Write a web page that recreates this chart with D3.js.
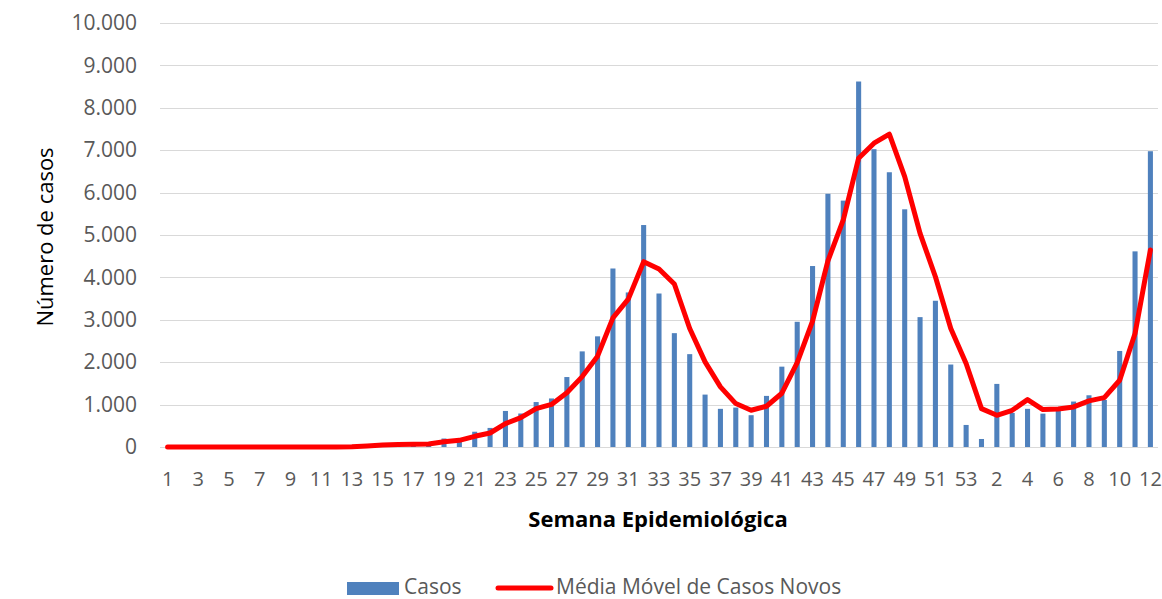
<!DOCTYPE html>
<html>
<head>
<meta charset="utf-8">
<script src="https://cdnjs.cloudflare.com/ajax/libs/d3/7.8.5/d3.min.js"></script>
<style>
  body { margin: 0; background: #fff; }
  text { font-family: "Open Sans", sans-serif; }
</style>
</head>
<body>
<div id="chart"></div>
<script>
"use strict";

// week labels: 2020 weeks 1-53, then 2021 weeks 1-12
var semanas = [];
for (var w = 1; w <= 53; w++) semanas.push(w);
for (var w2 = 1; w2 <= 12; w2++) semanas.push(w2);

var casos = [
  0, 0, 0, 0, 0, 0, 0, 0, 0, 0, 2, 3,
  8, 30, 60, 70, 75, 85, 200, 150, 360, 450, 850, 790,
  1060, 1145, 1650, 2255, 2610, 4210, 3645, 5235, 3620, 2685, 2190, 1236,
  900, 930, 750, 1205, 1895, 2953, 4268, 5972, 5811, 8620, 7024, 6480,
  5606, 3063, 3449, 1945, 520,
  189, 1488, 803, 900, 787, 945, 1072, 1220, 1110, 2265, 4614, 6976
];

var mediaMovel = [
  0, 0, 0, 0, 0, 0, 0, 0, 0, 0, 0, 2,
  8, 25, 47, 60, 65, 71, 126, 157, 252, 330, 551, 693,
  906, 1004, 1280, 1660, 2142, 3047, 3488, 4370, 4197, 3843, 2795, 2008,
  1417, 1024, 866, 961, 1268, 1990, 2970, 4390, 5354, 6811, 7165, 7378,
  6378, 5039, 4016, 2795, 1969,
  906, 748, 866, 1118, 882, 898, 945, 1087, 1165, 1575, 2677, 4646
];

var yTicks = [0, 1000, 2000, 3000, 4000, 5000, 6000, 7000, 8000, 9000, 10000];

var width = 1162, height = 599;
var margin = { top: 23, right: 4, bottom: 152, left: 160 };

var ptBR = d3.formatLocale({ decimal: ",", thousands: ".", grouping: [3], currency: ["R$", ""] });
var fmt = ptBR.format(",d");

var svg = d3.select("#chart").append("svg")
  .attr("width", width)
  .attr("height", height);

var x = d3.scaleBand()
  .domain(d3.range(semanas.length))
  .range([margin.left, width - margin.right])
  .paddingInner(0.67)
  .paddingOuter(0.33);

var y = d3.scaleLinear()
  .domain([0, 10000])
  .range([height - margin.bottom, margin.top]);

// grid lines
svg.append("g")
  .selectAll("line")
  .data(yTicks)
  .join("line")
  .attr("x1", margin.left)
  .attr("x2", width - margin.right)
  .attr("y1", function(d) { return Math.round(y(d)) + 0.5; })
  .attr("y2", function(d) { return Math.round(y(d)) + 0.5; })
  .attr("stroke", "#d9d9d9")
  .attr("stroke-width", 1.2);

// y axis labels
var yAxis = d3.axisLeft(y).tickValues(yTicks).tickFormat(fmt).tickSize(0).tickPadding(23);
svg.append("g")
  .attr("transform", "translate(" + margin.left + ",0)")
  .call(yAxis)
  .call(function(g) { g.select(".domain").remove(); })
  .selectAll("text")
  .attr("fill", "#595959")
  .attr("font-size", "21px")
  .attr("font-family", "Open Sans, sans-serif");

// x axis labels (every other week)
var xAxis = d3.axisBottom(x)
  .tickValues(d3.range(0, semanas.length, 2))
  .tickFormat(function(i) { return semanas[i]; })
  .tickSize(0)
  .tickPadding(25);
svg.append("g")
  .attr("transform", "translate(0," + (height - margin.bottom) + ")")
  .call(xAxis)
  .call(function(g) { g.select(".domain").remove(); })
  .selectAll("text")
  .attr("fill", "#595959")
  .attr("font-size", "20px")
  .attr("font-family", "Open Sans, sans-serif");

// bars
svg.append("g")
  .selectAll("rect")
  .data(casos)
  .join("rect")
  .attr("x", function(d, i) { return x(i); })
  .attr("width", x.bandwidth())
  .attr("y", function(d) { return y(d); })
  .attr("height", function(d) { return y(0) - y(d); })
  .attr("fill", "#4f81bd");

// moving average line
var line = d3.line()
  .x(function(d, i) { return x(i) + x.bandwidth() / 2; })
  .y(function(d) { return y(d); });

svg.append("path")
  .datum(mediaMovel)
  .attr("d", line)
  .attr("fill", "none")
  .attr("stroke", "#ff0000")
  .attr("stroke-width", 5)
  .attr("stroke-linejoin", "round")
  .attr("stroke-linecap", "round");

// axis titles
svg.append("text")
  .attr("x", 658)
  .attr("y", 527)
  .attr("text-anchor", "middle")
  .attr("font-size", "22px")
  .attr("font-weight", "bold")
  .attr("fill", "#000")
  .text("Semana Epidemiológica");

svg.append("text")
  .attr("transform", "translate(53,237) rotate(-90)")
  .attr("text-anchor", "middle")
  .attr("font-size", "22px")
  .attr("fill", "#000")
  .text("Número de casos");

// legend
var legend = svg.append("g");
legend.append("rect")
  .attr("x", 347).attr("y", 582)
  .attr("width", 52).attr("height", 13)
  .attr("fill", "#4f81bd");
legend.append("text")
  .attr("x", 404).attr("y", 594)
  .attr("font-size", "21px")
  .attr("fill", "#595959")
  .text("Casos");
legend.append("line")
  .attr("x1", 498).attr("x2", 551)
  .attr("y1", 588).attr("y2", 588)
  .attr("stroke", "#ff0000")
  .attr("stroke-width", 5)
  .attr("stroke-linecap", "round");
legend.append("text")
  .attr("x", 556).attr("y", 594)
  .attr("font-size", "21px")
  .attr("fill", "#595959")
  .text("Média Móvel de Casos Novos");
</script>
</body>
</html>
